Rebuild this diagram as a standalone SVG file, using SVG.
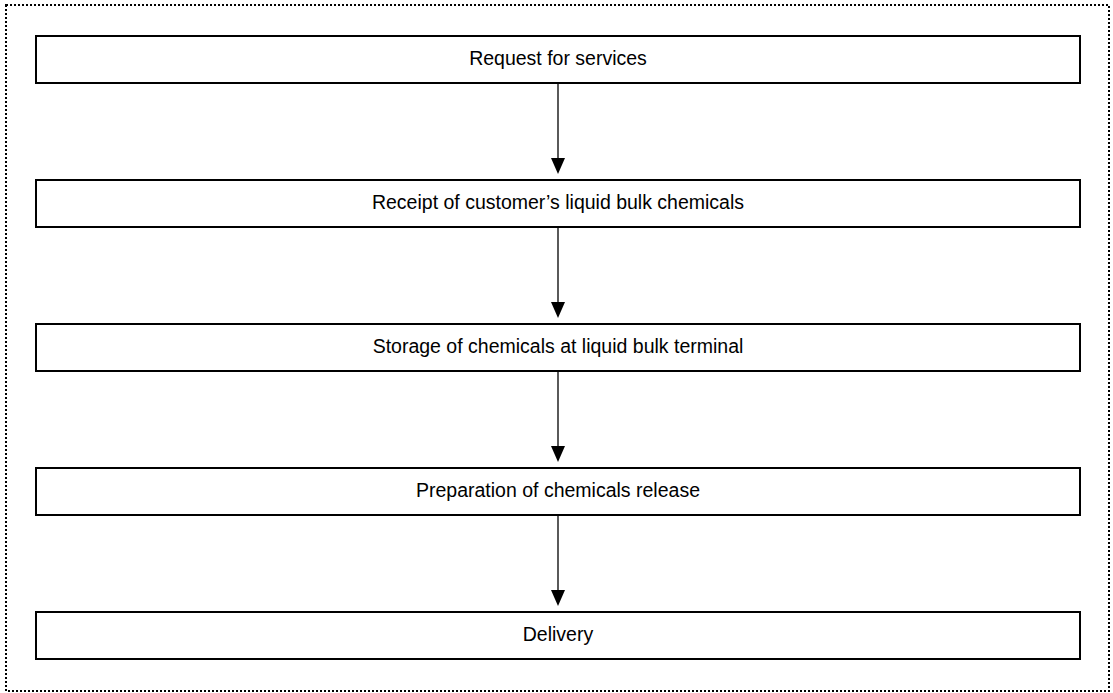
<svg xmlns="http://www.w3.org/2000/svg" width="1113" height="693" viewBox="0 0 1113 693">
<style>
.frame{fill:none;stroke:#000;stroke-width:2;stroke-dasharray:2 2}
.box{fill:#fff;stroke:#000;stroke-width:2}
.lbl{font-family:"Liberation Sans",Arial,sans-serif;font-size:19.5px;fill:#000;text-anchor:middle}
.conn{stroke:#000;stroke-width:1.3;fill:none}
.head{fill:#000}
</style>
<rect width="1113" height="693" fill="#fff"/>
<rect class="frame" x="6" y="5" width="1103" height="686"/>
<g id="connectors">
<line class="conn" x1="558" y1="83" x2="558" y2="160"/>
<polygon class="head" points="551,158 565,158 558,174"/>
<line class="conn" x1="558" y1="227" x2="558" y2="304"/>
<polygon class="head" points="551,302 565,302 558,318"/>
<line class="conn" x1="558" y1="371" x2="558" y2="448"/>
<polygon class="head" points="551,446 565,446 558,462"/>
<line class="conn" x1="558" y1="515" x2="558" y2="592"/>
<polygon class="head" points="551,590 565,590 558,606"/>
</g>
<g id="n1"><rect class="box" x="36" y="36" width="1044" height="47"/><text class="lbl" x="558" y="65">Request for services</text></g>
<g id="n2"><rect class="box" x="36" y="180" width="1044" height="47"/><text class="lbl" x="558" y="209">Receipt of customer’s liquid bulk chemicals</text></g>
<g id="n3"><rect class="box" x="36" y="324" width="1044" height="47"/><text class="lbl" x="558" y="353">Storage of chemicals at liquid bulk terminal</text></g>
<g id="n4"><rect class="box" x="36" y="468" width="1044" height="47"/><text class="lbl" x="558" y="497">Preparation of chemicals release</text></g>
<g id="n5"><rect class="box" x="36" y="612" width="1044" height="47"/><text class="lbl" x="558" y="641">Delivery</text></g>
</svg>
